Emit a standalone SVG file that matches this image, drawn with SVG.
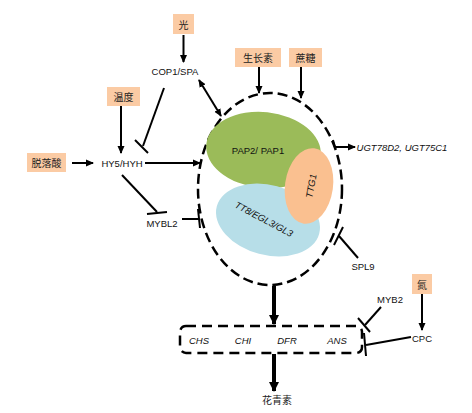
<svg xmlns="http://www.w3.org/2000/svg" width="472" height="413" viewBox="0 0 472 413">
<style>
.box{fill:#FBCBA4}
.cn{font-family:"Noto Sans CJK SC",sans-serif;font-size:10px;fill:#222;text-anchor:middle;dominant-baseline:central}
.t{font-family:"Liberation Sans",Arial,sans-serif;font-size:9.5px;fill:#111;text-anchor:middle;dominant-baseline:central}
.it{font-style:italic}
.ln{stroke:#000;stroke-width:2;fill:none}
.thick{stroke:#000;stroke-width:4;fill:none}
.dash{stroke:#000;stroke-width:2.5;fill:none;stroke-dasharray:10 5}
</style>
<defs>
<marker id="ah" markerWidth="8" markerHeight="8" refX="7" refY="4" orient="auto" markerUnits="userSpaceOnUse">
<path d="M0,0.5 L8,4 L0,7.5 z" fill="#000"/>
</marker>
<marker id="ahs" markerWidth="8" markerHeight="8" refX="1" refY="4" orient="auto" markerUnits="userSpaceOnUse">
<path d="M8,0.5 L0,4 L8,7.5 z" fill="#000"/>
</marker>
<marker id="ahb" markerWidth="10" markerHeight="10" refX="9" refY="5" orient="auto" markerUnits="userSpaceOnUse">
<path d="M0,0 L10,5 L0,10 z" fill="#000"/>
</marker>
</defs>

<g id="complex">
<ellipse cx="270" cy="189" rx="72" ry="96" class="dash"/>
<ellipse id="pap" cx="263.5" cy="150" rx="57.5" ry="38" fill="#9BBB59" transform="rotate(6 263.5 150)"/>
<ellipse id="tt8" cx="268" cy="220" rx="53" ry="35" fill="#B7DEE8" transform="rotate(15 268 220)"/>
<ellipse id="ttg1" cx="309" cy="186" rx="24" ry="38" fill="#FAC090" transform="rotate(8 309 186)"/>
<text class="t" x="258" y="150">PAP2/ PAP1</text>
<text class="t it" x="264" y="219" transform="rotate(28 264 219)">TT8/EGL3/GL3</text>
<text class="t it" x="311" y="186" transform="rotate(-80 311 186)">TTG1</text>
</g>

<g id="n-light"><rect class="box" x="173" y="14" width="21" height="20"/><text class="cn" x="183.5" y="24">光</text></g>
<g id="n-temp"><rect class="box" x="107" y="87" width="33" height="19"/><text class="cn" x="123.5" y="96.5">温度</text></g>
<g id="n-aba"><rect class="box" x="27" y="153" width="39" height="19"/><text class="cn" x="46.5" y="162.5">脱落酸</text></g>
<g id="n-auxin"><rect class="box" x="235" y="48" width="46" height="19"/><text class="cn" x="258" y="57.5">生长素</text></g>
<g id="n-sucrose"><rect class="box" x="289" y="48" width="33" height="19"/><text class="cn" x="305.5" y="57.5">蔗糖</text></g>
<g id="n-n"><rect class="box" x="412" y="274" width="20" height="20"/><text class="cn" x="422" y="284">氮</text></g>

<g id="n-cop1"><text class="t" x="175" y="71">COP1/SPA</text></g>
<g id="n-hy5"><text class="t" x="122" y="163">HY5/HYH</text></g>
<g id="n-mybl2"><text class="t" x="162" y="223">MYBL2</text></g>
<g id="n-spl9"><text class="t" x="363" y="266">SPL9</text></g>
<g id="n-myb2"><text class="t" x="390" y="299">MYB2</text></g>
<g id="n-cpc"><text class="t" x="422" y="338">CPC</text></g>
<g id="n-ugt"><text class="t it" x="402" y="147.5">UGT78D2, UGT75C1</text></g>
<g id="n-anth"><text class="cn" x="277" y="399">花青素</text></g>

<g id="genes">
<rect x="180" y="326" width="182" height="27" rx="6" class="dash" style="stroke-dasharray:10 6"/>
<text class="t it" x="199" y="340">CHS</text>
<text class="t it" x="243" y="340">CHI</text>
<text class="t it" x="287" y="340">DFR</text>
<text class="t it" x="337" y="340">ANS</text>
</g>

<g id="connectors">
<line class="ln" x1="183.5" y1="35" x2="183.5" y2="62" marker-end="url(#ah)"/>
<line class="ln" x1="199" y1="80" x2="221" y2="116" marker-start="url(#ahs)" marker-end="url(#ah)"/>
<line class="ln" x1="164" y1="88" x2="143" y2="146"/>
<line class="ln" x1="135" y1="140" x2="148" y2="153"/>
<line class="ln" x1="121" y1="106" x2="121" y2="153" marker-end="url(#ah)"/>
<line class="ln" x1="72" y1="163" x2="93" y2="163" marker-end="url(#ah)"/>
<line class="ln" x1="145" y1="163" x2="200" y2="163" marker-end="url(#ah)"/>
<line class="ln" x1="122" y1="175" x2="157" y2="212"/>
<line class="ln" x1="147" y1="214" x2="167" y2="212"/>
<line class="ln" x1="182" y1="219" x2="199" y2="219"/>
<line class="ln" x1="198" y1="209" x2="200" y2="228"/>
<line class="ln" x1="259" y1="67" x2="259" y2="93" marker-end="url(#ah)"/>
<line class="ln" x1="301" y1="67" x2="301" y2="98" marker-end="url(#ah)"/>
<polyline class="ln" points="333,140 335,147 355,147" marker-end="url(#ah)"/>
<line class="ln" x1="358" y1="258" x2="339" y2="236"/>
<line class="ln" x1="334" y1="245" x2="343" y2="227"/>
<line class="thick" x1="274" y1="286" x2="274" y2="324" marker-end="url(#ahb)"/>
<line class="thick" x1="274" y1="354" x2="274" y2="391" marker-end="url(#ahb)"/>
<line class="ln" x1="422" y1="294" x2="422" y2="330" marker-end="url(#ah)"/>
<line class="ln" x1="381" y1="307" x2="365" y2="325"/>
<line class="ln" x1="358" y1="318" x2="370" y2="332"/>
<line class="ln" x1="411" y1="337" x2="366" y2="345"/>
<line class="ln" x1="364" y1="333" x2="366" y2="356"/>
</g>
</svg>
